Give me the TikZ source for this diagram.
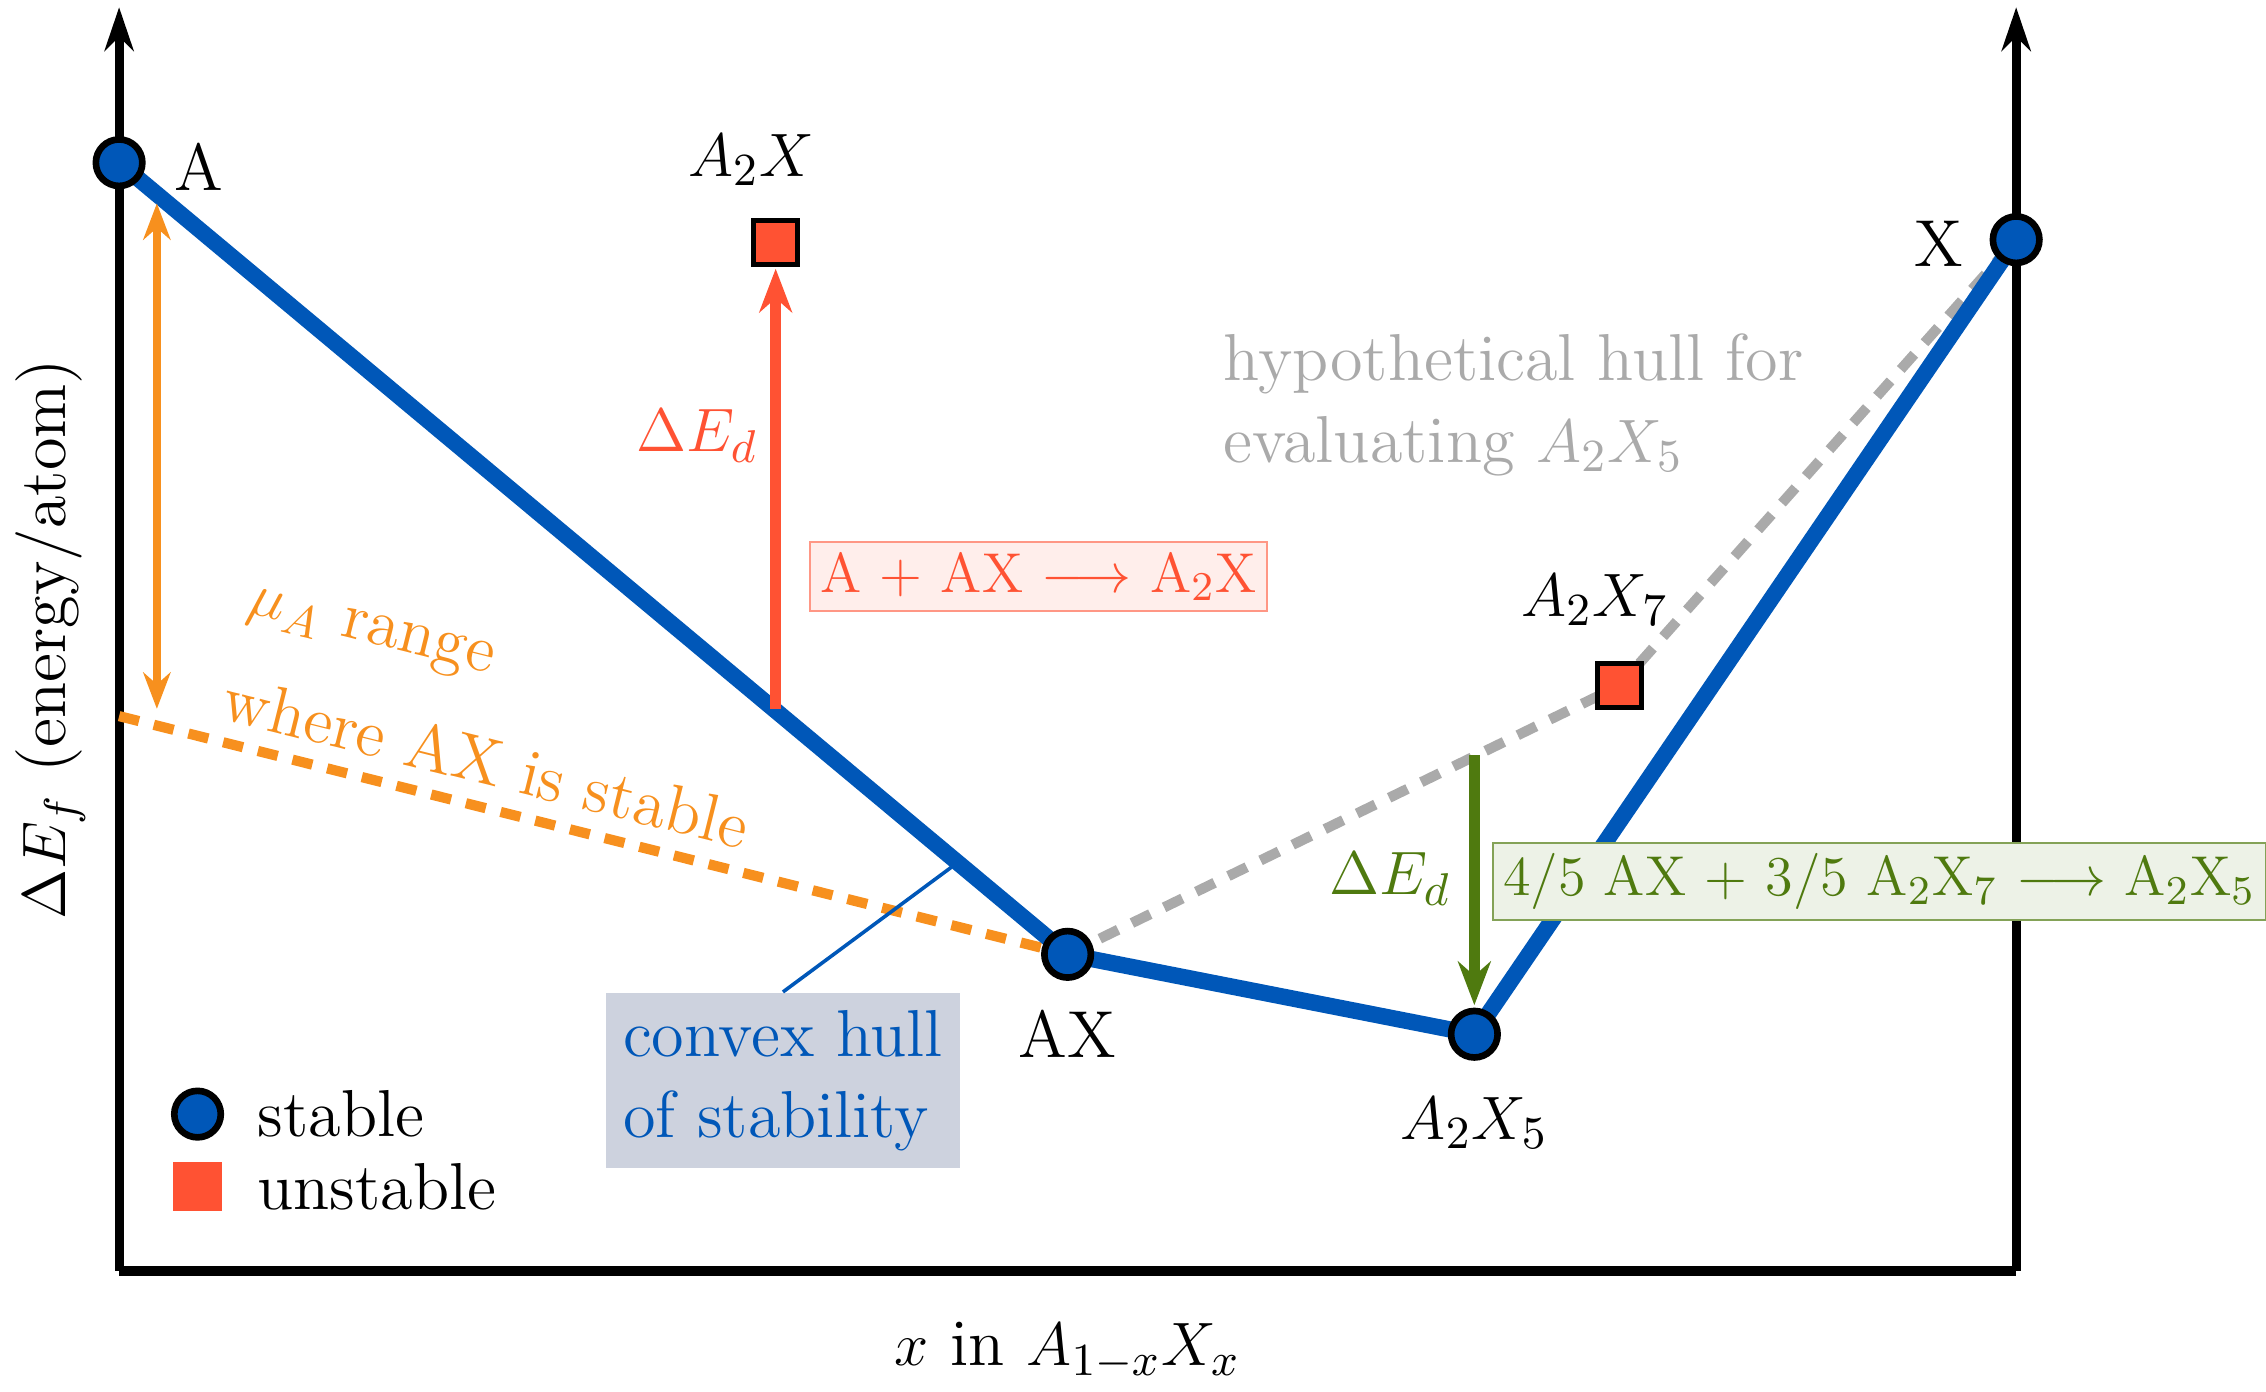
\documentclass[tikz,border=0pt]{standalone}
\usepackage{amsmath}
\usetikzlibrary{arrows.meta}
\definecolor{hb}{HTML}{0057B8}
\definecolor{og}{HTML}{F7901E}
\definecolor{rd}{HTML}{FF5233}
\definecolor{gy}{HTML}{AAAAAA}
\definecolor{gn}{HTML}{4F7A0F}
\begin{document}
\begin{tikzpicture}[x=0.01cm,y=-0.01cm,
  txt/.style={font=\fontsize{13}{16}\selectfont},
  btxt/.style={font=\fontsize{11}{13}\selectfont},
  stab/.style={circle,draw=black,line width=1.3pt,fill=hb,minimum size=0.32cm,inner sep=0},
  unst/.style={rectangle,draw=black,line width=1pt,fill=rd,minimum size=0.3cm,inner sep=0},
  hull/.style={hb,line width=3.2pt},
  dsh/.style={line width=2pt,dash pattern=on 4pt off 3pt},
  ax/.style={line width=1.8pt,-{Stealth[length=0.3cm,width=0.2cm]}}]
\useasboundingbox (0,0) rectangle (1560,958);
% axes
\coordinate (o) at (82,875); \coordinate (r) at (1388,875);
\coordinate (lt) at (82,5); \coordinate (rt) at (1388,5);
\draw[line width=1.8pt] (o) -- (r);
\draw[ax] (o) -- (lt);
\draw[ax] (r) -- (rt);
% nodes
\coordinate (Ap) at (82,112); \coordinate (Xp) at (1388,165);
\coordinate (AXp) at (735,657); \coordinate (A25p) at (1015,712);
\coordinate (A2Xp) at (534,167); \coordinate (A27p) at (1115,472);
\coordinate (ol) at (82,493);
\draw[gy,dsh] (AXp) -- (A27p) -- (Xp);
\draw[og,dsh] (ol) -- (AXp);
\draw[hull] (Ap) -- (AXp) -- (A25p) -- (Xp);
% arrows
\coordinate (o1) at (108,140); \coordinate (o2) at (108,488);
\draw[og,line width=1.6pt,{Stealth[length=0.25cm]}-{Stealth[length=0.25cm]}] (o1) -- (o2);
\coordinate (r1) at (534,488); \coordinate (r2) at (534,185);
\draw[rd,line width=2.2pt,-{Stealth[length=0.3cm]}] (r1) -- (r2);
\coordinate (g1) at (1015,520); \coordinate (g2) at (1015,692);
\draw[gn,line width=2.2pt,-{Stealth[length=0.3cm]}] (g1) -- (g2);
% points
\node[stab] (A) at (Ap) {};
\node[stab] (X) at (Xp) {};
\node[stab] (AX) at (AXp) {};
\node[stab] (A25) at (A25p) {};
\node[unst] (A2X) at (A2Xp) {};
\node[unst] (A27) at (A27p) {};
% labels
\node[txt] (lA) at (137,115) {A};
\node[txt] (lX) at (1335,168) {X};
\node[txt] (lA2X) at (517,110) {$A_2X$};
\node[txt] (lA27) at (1098,413) {$A_2X_7$};
\node[txt] (lAX) at (735,712) {AX};
\node[txt] (lA25) at (1015,773) {$A_2X_5$};
\node[txt,rotate=90] (ylab) at (35,440) {$\Delta E_f$ (energy/atom)};
\node[txt] (xlab) at (735,930) {$x$ in $A_{1-x}X_x$};
\node[txt,rd] (de1) at (480,300) {$\Delta E_d$};
\node[txt,gn] (de2) at (957,605) {$\Delta E_d$};
\node[btxt,draw=rd!60,fill=rd!10,text=rd,inner sep=2pt] (rbox) at (715,397) {A + AX $\longrightarrow$ A$_2$X};
\node[btxt,draw=gn!70,fill=gn!10,text=gn,inner sep=2pt,anchor=west] (gbox) at (1027,607) {4/5 AX + 3/5 A$_2$X$_7$ $\longrightarrow$ A$_2$X$_5$};
\node[txt,gy,align=left,anchor=west] (hyp) at (830,279) {hypothetical hull for\\evaluating $A_2X_5$};
\node[txt,og,rotate=-14] (mu1) at (255,437) {$\mu_A$ range};
\node[txt,og,rotate=-14] (mu2) at (335,524) {where AX is stable};
% convex hull label
\coordinate (cl) at (655,597);
\node[txt,fill={rgb,255:red,205;green,210;blue,222},text=hb,align=left,minimum width=2.38cm,minimum height=1.01cm] (ch) at (539,744) {convex hull\\of stability};
\draw[hb,line width=0.7pt] (ch.north) -- (cl);
% legend
\node[stab] (ls) at (136,767) {};
\node[txt,anchor=west] (lst) at (165,767) {stable};
\node[unst,draw=none,minimum size=0.34cm] (lu) at (136,817) {};
\node[txt,anchor=west] (lut) at (165,817) {unstable};
\end{tikzpicture}
\end{document}
